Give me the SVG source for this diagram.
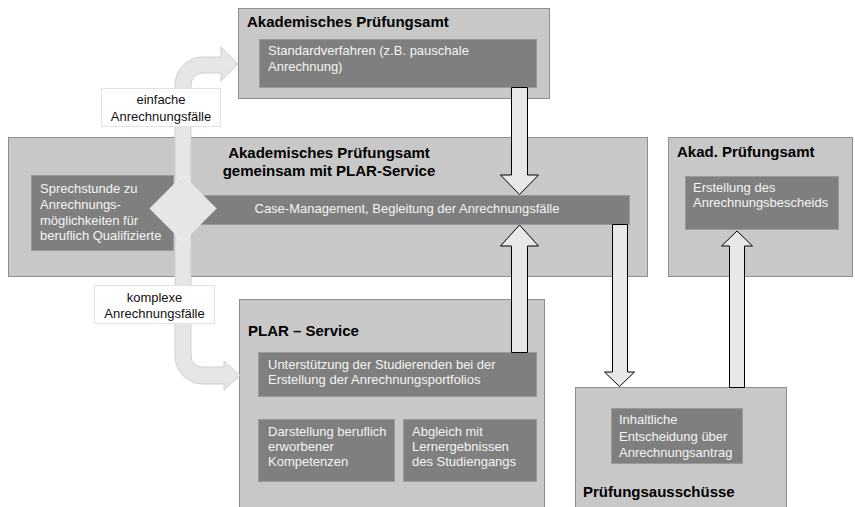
<svg xmlns="http://www.w3.org/2000/svg" width="855" height="507" viewBox="0 0 855 507">
<style>
.outer{fill:#c8c8c8;stroke:#8e8e8e;stroke-width:1}
.inner{fill:#7f7f7f;stroke:#9a9a9a;stroke-width:1}
.title{font-family:"Liberation Sans",Arial,sans-serif;font-size:15px;font-weight:bold;fill:#000}
.itext{font-family:"Liberation Sans",Arial,sans-serif;font-size:13px;fill:#f4f4f4}
.ltext{font-family:"Liberation Sans",Arial,sans-serif;font-size:13px;fill:#111;text-anchor:middle}
.arrow{fill:#e8e8e8;stroke:#000;stroke-width:1}
.band{fill:#e6e6e6;stroke:#cfcfcf;stroke-width:1}
.label{fill:#fff;stroke:#e2e2e2;stroke-width:1}
</style>
<rect width="855" height="507" fill="#fff"/>

<g id="mid-box">
<rect class="outer" x="8.5" y="137.5" width="639" height="139"/>
<text class="title" x="329" y="158" text-anchor="middle">Akademisches Prüfungsamt</text>
<text class="title" x="329" y="176" text-anchor="middle">gemeinsam mit PLAR-Service</text>
</g>
<g id="case-management">
<rect class="inner" x="190.5" y="195.5" width="439" height="29"/>
<text class="itext" x="407" y="213" text-anchor="middle">Case-Management, Begleitung der Anrechnungsfälle</text>
</g>
<g id="sprechstunde">
<rect class="inner" x="31.5" y="175.5" width="142" height="75"/>
<text class="itext" x="40" y="193">Sprechstunde zu</text>
<text class="itext" x="40" y="209">Anrechnungs-</text>
<text class="itext" x="40" y="224.5">möglichkeiten für</text>
<text class="itext" x="40" y="240">beruflich Qualifizierte</text>
</g>

<g id="top-box">
<rect class="outer" x="238.5" y="8.5" width="311" height="90"/>
<text class="title" x="247" y="27">Akademisches Prüfungsamt</text>
<rect class="inner" x="259.5" y="39.5" width="277" height="48"/>
<text class="itext" x="268" y="55">Standardverfahren (z.B. pauschale</text>
<text class="itext" x="268" y="71">Anrechnung)</text>
</g>

<g id="akad-box">
<rect class="outer" x="668.5" y="137.5" width="184" height="139"/>
<text class="title" x="677" y="157">Akad. Prüfungsamt</text>
<rect class="inner" x="685.5" y="176.5" width="153" height="53"/>
<text class="itext" x="693" y="192">Erstellung des</text>
<text class="itext" x="693" y="207">Anrechnungsbescheids</text>
</g>

<g id="plar-box">
<rect class="outer" x="239.5" y="299.5" width="305" height="215"/>
<text class="title" x="248" y="336">PLAR – Service</text>
<rect class="inner" x="258.5" y="352.5" width="278" height="44"/>
<text class="itext" x="268" y="369">Unterstützung der Studierenden bei der</text>
<text class="itext" x="268" y="384">Erstellung der Anrechnungsportfolios</text>
<rect class="inner" x="258.5" y="419.5" width="136" height="62"/>
<text class="itext" x="268" y="436">Darstellung beruflich</text>
<text class="itext" x="268" y="451">erworbener</text>
<text class="itext" x="268" y="466">Kompetenzen</text>
<rect class="inner" x="403.5" y="419.5" width="133" height="62"/>
<text class="itext" x="412" y="436">Abgleich mit</text>
<text class="itext" x="412" y="451">Lernergebnissen</text>
<text class="itext" x="412" y="466">des Studiengangs</text>
</g>

<g id="pruefungsausschuesse">
<rect class="outer" x="575.5" y="387.5" width="211" height="130"/>
<rect class="inner" x="611.5" y="408.5" width="131" height="55"/>
<text class="itext" x="619" y="424">Inhaltliche</text>
<text class="itext" x="619" y="441">Entscheidung über</text>
<text class="itext" x="619" y="457">Anrechnungsantrag</text>
<text class="title" x="583" y="497">Prüfungsausschüsse</text>
</g>

<g id="connectors">
<path class="band" d="M221,47 L238,64 L221,81 L221,73 L203,73 A12,12 0 0 0 191,85 L191,356 A11,11 0 0 0 202,367 L224,367 L224,361 L240,375.5 L224,390 L224,384 L203,384 A28,28 0 0 1 175,356 L175,85 A28,28 0 0 1 203,57 L221,57 Z"/>
<g id="label-einfach">
<rect class="label" x="101.5" y="88.5" width="119" height="38"/>
<text class="ltext" x="161" y="104">einfache</text>
<text class="ltext" x="161" y="121">Anrechnungsfälle</text>
</g>
<g id="label-komplex">
<rect class="label" x="94.5" y="285.5" width="120" height="38"/>
<text class="ltext" x="154.5" y="302">komplexe</text>
<text class="ltext" x="154.5" y="318">Anrechnungsfälle</text>
</g>
<polygon id="decision" points="183,175.5 216,208.5 183,241.5 150,208.5" fill="#e6e6e6" stroke="#f2f2f2" stroke-width="1"/>
<polygon class="arrow" points="511.5,87.5 527.5,87.5 527.5,175 538.5,175 519.5,194.5 500.5,175 511.5,175"/>
<polygon class="arrow" points="511.5,352.5 527.5,352.5 527.5,246 538.5,246 519.5,225 500.5,246 511.5,246"/>
<polygon class="arrow" points="612.5,224.5 627.5,224.5 627.5,372 634.5,372 619.5,386.5 604.5,372 612.5,372"/>
<polygon class="arrow" points="729.5,387.5 744.5,387.5 744.5,246 752.5,246 737,231 721.5,246 729.5,246"/>
</g>
</svg>
